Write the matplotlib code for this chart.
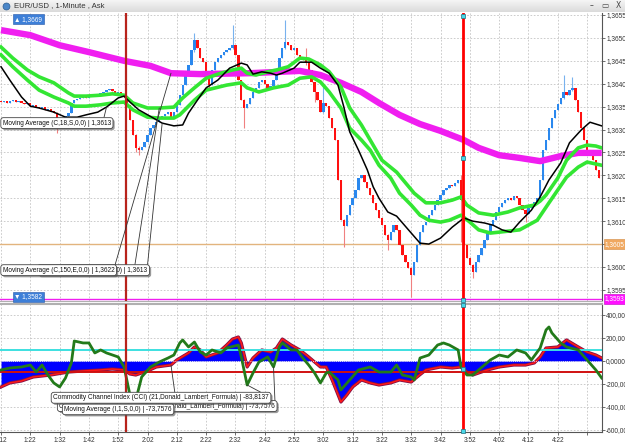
import matplotlib
matplotlib.use("Agg")
import matplotlib.pyplot as plt
import matplotlib.patheffects as pe
import numpy as np

plt.rcParams['font.family'] = ['Liberation Sans', 'DejaVu Sans']

# ---------------- data (minutes counted from 1:12) ----------------
time_labels = ["1:12", "1:22", "1:32", "1:42", "1:52", "2:02", "2:12", "2:22", "2:32", "2:42",
               "2:52", "3:02", "3:12", "3:22", "3:32", "3:42", "3:52", "4:02", "4:12", "4:22", ""]
price_ticks = [1.3595, 1.3600, 1.3605, 1.3610, 1.3615, 1.3620, 1.3625, 1.3630,
               1.3635, 1.3640, 1.3645, 1.3650, 1.3655]
cci_ticks = [-600, -400, -200, 0, 200, 400]
cci_tick_labels = ["-600,000", "-400,000", "-200,000", "0,0000", "200,000", "400,000"]

open0 = 1.36362
close = [1.36360, 1.36362, 1.36358, 1.36362, 1.36364, 1.36360, 1.36362, 1.36358, 1.36356, 1.36358,
         1.36351, 1.36354, 1.36349, 1.36347, 1.36349, 1.36343, 1.36345, 1.36340, 1.36336, 1.36312,
         1.36321, 1.36325, 1.36330, 1.36336, 1.36358, 1.36364, 1.36367, 1.36369, 1.36371, 1.36369,
         1.36373, 1.36375, 1.36373, 1.36378, 1.36380, 1.36382, 1.36386, 1.36388, 1.36384, 1.36380,
         1.36382, 1.36378, 1.36373, 1.36354, 1.36321, 1.36288, 1.36260, 1.36255, 1.36262, 1.36273,
         1.36288, 1.36303, 1.36310, 1.36316, 1.36325, 1.36330, 1.36334, 1.36338, 1.36325, 1.36338,
         1.36354, 1.36375, 1.36397, 1.36419, 1.36441, 1.36474, 1.36495, 1.36478, 1.36456, 1.36447,
         1.36419, 1.36397, 1.36430, 1.36447, 1.36456, 1.36463, 1.36469, 1.36474, 1.36478, 1.36485,
         1.36463, 1.36408, 1.36364, 1.36347, 1.36356, 1.36369, 1.36382, 1.36391, 1.36404, 1.36408,
         1.36399, 1.36391, 1.36395, 1.36408, 1.36430, 1.36456, 1.36478, 1.36491, 1.36485, 1.36474,
         1.36478, 1.36463, 1.36456, 1.36452, 1.36447, 1.36430, 1.36404, 1.36382, 1.36364, 1.36338,
         1.36358, 1.36351, 1.36325, 1.36303, 1.36277, 1.36190, 1.36102, 1.36089, 1.36113, 1.36135,
         1.36150, 1.36168, 1.36194, 1.36201, 1.36185, 1.36172, 1.36157, 1.36140, 1.36124, 1.36107,
         1.36092, 1.36070, 1.36059, 1.36076, 1.36092, 1.36081, 1.36048, 1.36026, 1.36011, 1.35998,
         1.35982, 1.36011, 1.36048, 1.36076, 1.36092, 1.36098, 1.36113, 1.36124, 1.36135, 1.36146,
         1.36157, 1.36168, 1.36172, 1.36179, 1.36177, 1.36183, 1.36190, 1.36146, 1.36048, 1.36020,
         1.36004, 1.35989, 1.36011, 1.36026, 1.36041, 1.36059, 1.36076, 1.36092, 1.36102, 1.36120,
         1.36131, 1.36140, 1.36146, 1.36150, 1.36146, 1.36155, 1.36150, 1.36135, 1.36124, 1.36116,
         1.36129, 1.36135, 1.36142, 1.36150, 1.36190, 1.36255, 1.36277, 1.36303, 1.36325, 1.36343,
         1.36356, 1.36369, 1.36382, 1.36375, 1.36386, 1.36391, 1.36364, 1.36338, 1.36303, 1.36277,
         1.36255, 1.36244, 1.36233, 1.36212, 1.36194]

# candles with visible wicks
wick_idx = [19, 46, 47, 66, 71, 79, 83, 97, 104, 107, 110, 117, 132, 140, 157, 161, 179, 192, 195]
wick_hi = [1.36338, 1.36290, 1.36265, 1.36511, 1.36421, 1.36528, 1.36366, 1.36539, 1.36478, 1.36404,
           1.36402, 1.36105, 1.36072, 1.36000, 1.36201, 1.36006, 1.36126, 1.36419, 1.36415]
wick_lo = [1.36292, 1.36250, 1.36244, 1.36470, 1.36386, 1.36475, 1.36303, 1.36476, 1.36440, 1.36360,
           1.36336, 1.36044, 1.36037, 1.35934, 1.36054, 1.35976, 1.36098, 1.36366, 1.36384]

ma150_t = [0, 10, 20, 30, 42, 51, 58, 68, 85, 102, 109, 116, 123, 129, 136, 143, 150, 158, 163,
           170, 177, 184, 191, 197, 205]
ma150_v = [1.36517, 1.36506, 1.36484, 1.36469, 1.36450, 1.36439, 1.36423, 1.36421, 1.36423, 1.36428,
           1.36419, 1.36402, 1.36382, 1.36358, 1.36332, 1.36312, 1.36297, 1.36277, 1.36260, 1.36244,
           1.36238, 1.36231, 1.36242, 1.36249, 1.36249]

ma18_t = [0, 3, 7, 10, 13, 18, 22, 26, 29, 33, 36, 40, 42, 44, 47, 52, 55, 59, 62, 64, 67, 70, 74,
          78, 82, 84, 86, 89, 92, 94, 96, 100, 102, 106, 109, 112, 115, 117, 119, 122, 125, 127, 129,
          132, 135, 140, 143, 146, 150, 154, 158, 161, 165, 168, 171, 174, 177, 181, 184, 187, 191,
          194, 198, 201, 205]
ma18_v = [1.36437, 1.36408, 1.36371, 1.36351, 1.36347, 1.36338, 1.36327, 1.36327, 1.36332, 1.36338,
          1.36349, 1.36369, 1.36373, 1.36360, 1.36343, 1.36325, 1.36314, 1.36308, 1.36310, 1.36336,
          1.36364, 1.36391, 1.36408, 1.36434, 1.36445, 1.36441, 1.36421, 1.36426, 1.36423, 1.36419,
          1.36423, 1.36434, 1.36447, 1.36447, 1.36434, 1.36423, 1.36397, 1.36349, 1.36295, 1.36255,
          1.36212, 1.36175, 1.36150, 1.36120, 1.36111, 1.36074, 1.36052, 1.36050, 1.36063, 1.36087,
          1.36107, 1.36100, 1.36096, 1.36091, 1.36081, 1.36076, 1.36098, 1.36124, 1.36153, 1.36190,
          1.36227, 1.36271, 1.36299, 1.36316, 1.36308]

upper_t = [0, 4, 9, 13, 18, 23, 25, 29, 34, 38, 42, 45, 50, 54, 59, 62, 66, 70, 75, 79, 82, 84, 87,
           91, 94, 98, 102, 105, 109, 112, 116, 119, 123, 126, 130, 135, 141, 145, 150, 154, 157,
           159, 163, 168, 173, 177, 182, 184, 186, 190, 193, 197, 200, 203, 205]
upper_v = [1.36480, 1.36456, 1.36430, 1.36415, 1.36402, 1.36380, 1.36373, 1.36373, 1.36375, 1.36378,
           1.36375, 1.36358, 1.36347, 1.36347, 1.36349, 1.36369, 1.36391, 1.36412, 1.36423, 1.36430,
           1.36434, 1.36423, 1.36419, 1.36426, 1.36430, 1.36437, 1.36456, 1.36454, 1.36441, 1.36426,
           1.36393, 1.36347, 1.36310, 1.36277, 1.36233, 1.36207, 1.36161, 1.36140, 1.36140, 1.36146,
           1.36153, 1.36135, 1.36118, 1.36113, 1.36120, 1.36129, 1.36135, 1.36144, 1.36157, 1.36194,
           1.36233, 1.36260, 1.36266, 1.36264, 1.36260]

lower_t = [0, 4, 9, 13, 18, 23, 25, 29, 34, 38, 42, 45, 50, 54, 59, 61, 66, 70, 77, 82, 84, 88, 93,
           98, 102, 106, 109, 112, 116, 119, 123, 126, 129, 133, 136, 140, 143, 146, 150, 153, 157,
           160, 163, 167, 170, 177, 183, 187, 193, 197, 200, 205]
lower_v = [1.36463, 1.36437, 1.36408, 1.36386, 1.36371, 1.36358, 1.36351, 1.36351, 1.36354, 1.36358,
           1.36360, 1.36343, 1.36327, 1.36325, 1.36325, 1.36332, 1.36364, 1.36386, 1.36397, 1.36402,
           1.36391, 1.36382, 1.36391, 1.36397, 1.36412, 1.36415, 1.36404, 1.36382, 1.36347, 1.36303,
           1.36277, 1.36255, 1.36222, 1.36194, 1.36161, 1.36135, 1.36113, 1.36102, 1.36098, 1.36102,
           1.36113, 1.36098, 1.36081, 1.36074, 1.36076, 1.36081, 1.36102, 1.36140, 1.36196, 1.36218,
           1.36229, 1.36222]

cci_ma_t = [0, 3, 7, 11, 17, 23, 28, 34, 38, 42, 44, 46, 50, 53, 58, 60, 64, 66, 68, 70, 74, 77, 79,
            81, 82, 84, 86, 89, 92, 94, 96, 99, 102, 105, 109, 111, 113, 116, 118, 120, 123, 126,
            129, 133, 136, 140, 142, 145, 150, 154, 157, 159, 161, 166, 170, 175, 179, 182, 184,
            186, 190, 193, 197, 200, 203, 205]
cci_ma_v = [-226, -191, -174, -139, -122, -96, -87, -78, -70, -78, -113, -122, -87, -52, -35, 9, 70,
            122, 96, 35, 70, 139, 191, 209, 157, -52, 26, 96, 78, 113, 191, 139, 96, 35, -52, -52,
            -165, -357, -296, -226, -165, -191, -209, -191, -165, -183, -139, -78, -52, -61, -52,
            -96, -122, -78, -52, -35, -35, -17, 35, 113, 122, 183, 122, 78, 52, 26]

cci_t = [0, 3, 7, 10, 12, 14, 16, 18, 20, 22, 24, 25, 28, 30, 32, 34, 36, 40, 42, 44, 45, 46, 48,
         51, 54, 57, 59, 61, 62, 64, 66, 68, 70, 72, 75, 77, 81, 82, 84, 86, 88, 91, 93, 95, 96, 99,
         101, 103, 105, 107, 109, 111, 112, 115, 116, 119, 122, 126, 129, 133, 135, 137, 140, 141,
         143, 146, 149, 151, 153, 156, 157, 159, 161, 163, 167, 170, 173, 176, 179, 181, 184, 186,
         187, 188, 191, 193, 197, 200, 203, 205]
cci_v = [-78, -61, -52, -35, -96, -35, -122, -191, -226, -148, -17, 174, 157, 157, 70, 96, 70, 35,
         -52, -296, -383, -339, -139, -52, -9, 26, 52, 157, 183, 122, 165, 78, 52, 96, 70, 113, 139,
         35, -209, -104, -9, 35, -52, 122, 157, 96, 96, 26, -35, -104, -191, -104, -96, -165, -252,
         -165, -78, -52, -96, -96, -35, -122, -139, -165, 26, 52, 139, 157, 139, 96, -52, -122,
         -122, -78, 9, 52, 35, 96, 70, 9, 113, 270, 296, 244, 157, 122, 96, 9, -78, -148]

marker_lines = [42.7, 157.7]   # the two vertical red lines
level_tan = 1.3605
level_low = 1.3593

# ---------------- figure ----------------
W, H = 625, 445
FS = 4.7      # small platform font
fig = plt.figure(figsize=(W / 100, H / 100), dpi=100)


def px_box(x0, y0, x1, y1):
    return [x0 / W, 1 - y1 / H, (x1 - x0) / W, (y1 - y0) / H]


ax = fig.add_axes(px_box(0, 13, 602, 301))
ax2 = fig.add_axes(px_box(0, 304, 602, 432), sharex=ax)
bar = fig.add_axes(px_box(0, 0, 625, 12))

# title bar
grad = np.linspace(0.96, 0.86, 20)[:, None] * np.ones((1, 2))
bar.imshow(np.dstack([grad, grad, grad]), aspect='auto', extent=(0, 1, 0, 1))
bar.set_xlim(0, 1)
bar.set_ylim(0, 1)
bar.axis('off')
bar.plot(6 / W, 0.5, 'o', ms=5, color='#4a86c8', mec='#2a5a90', mew=0.5)
bar.text(14 / W, 0.5, "EUR/USD , 1-Minute , Ask", va='center', ha='left', fontsize=5.6, color='#333333')
for xx, s in zip([592, 605, 618], ["–", "▭", "X"]):
    bar.text(xx / W, 0.5, s, va='center', ha='center', fontsize=5.5, color='#444444',
             family=['DejaVu Sans'])

# ---------------- price panel ----------------
close = np.array(close)
t = np.arange(len(close))
opens = np.r_[open0, close[:-1]]
highs = np.maximum(opens, close)
lows = np.minimum(opens, close)
for i, hv, lv in zip(wick_idx, wick_hi, wick_lo):
    highs[i] = hv
    lows[i] = lv
up = close >= opens
body_lo = np.minimum(opens, close)
body_h = np.maximum(np.abs(close - opens), 0.00002)

ax.vlines(t[up], lows[up], highs[up], color='#78b2ee', lw=0.8, zorder=2)
ax.vlines(t[~up], lows[~up], highs[~up], color='#f08080', lw=0.8, zorder=2)
ax.bar(t[up], body_h[up], bottom=body_lo[up], width=0.8, color='#2a88ee', lw=0, zorder=3)
ax.bar(t[~up], body_h[~up], bottom=body_lo[~up], width=0.8, color='#ff1010', lw=0, zorder=3)

ax.axhline(level_tan, color='#e2b47e', lw=1.0, zorder=1.5)
ax.axhline(level_low, color='#f01ef0', lw=1.0, zorder=1.5)

ax.plot(ma150_t, ma150_v, color='#f01ef0', lw=4.6, solid_capstyle='butt', zorder=4)
ax.plot(upper_t, upper_v, color='#33e633', lw=2.6, zorder=5)
ax.plot(lower_t, lower_v, color='#33e633', lw=2.6, zorder=5)
ax.plot(ma18_t, ma18_v, color='#000000', lw=1.1, zorder=6)

ax.set_ylim(1.359257, 1.365544)
ax.set_xlim(-0.35, 205.1)
ax.set_xticks(range(0, 201, 10))
ax.tick_params(axis='x', length=0, labelbottom=False)
ax.yaxis.tick_right()
ax.set_yticks(price_ticks)
ax.set_yticklabels([f"{v:.4f}".replace('.', ',') for v in price_ticks], fontsize=FS)
ax.tick_params(axis='y', length=2, pad=1, width=0.6, colors='#555555')
for lab in ax.get_yticklabels():
    lab.set_color('#333333')
ax.grid(True, color='#c4c4c4', ls=(0, (2, 2)), lw=0.6)
ax.set_axisbelow(True)
for s in ['left', 'top']:
    ax.spines[s].set_visible(False)
ax.spines['right'].set_color('#555555')
ax.spines['right'].set_linewidth(0.8)
ax.spines['bottom'].set_color('#b0b0b0')

# right-side value tags
ax.text(1.005, level_tan, "1,3605", transform=ax.get_yaxis_transform(), fontsize=FS, color='white',
        va='center', ha='left', clip_on=False, zorder=12,
        bbox=dict(boxstyle='square,pad=0.2', fc='#f0a860', ec='#d08840', lw=0.4))
ax.text(1.005, level_low, "1,3593", transform=ax.get_yaxis_transform(), fontsize=FS, color='white',
        va='center', ha='left', clip_on=False, zorder=12,
        bbox=dict(boxstyle='square,pad=0.2', fc='#ff10ff', ec='#c000c0', lw=0.4))

# left high / low tags
tag = dict(boxstyle='square,pad=0.25', fc='#3d7fd8', ec='#2456a8', lw=0.4)
ax.text(4.5, 1.36541, "▲ 1,3669", fontsize=FS, color='white', va='center', ha='left', bbox=tag,
        zorder=9, family=['Liberation Sans', 'DejaVu Sans'])
ax.text(4.5, 1.35935, "▼ 1,3582", fontsize=FS, color='white', va='center', ha='left', bbox=tag,
        zorder=9, family=['Liberation Sans', 'DejaVu Sans'])

# callout labels
lbl_box = dict(boxstyle='round,pad=0.3,rounding_size=0.4', fc='white', ec='#444444', lw=0.6)
lead = dict(arrowstyle='-', color='#333333', lw=0.6, shrinkA=0, shrinkB=0)
shadow = [pe.SimplePatchShadow(offset=(1.2, -1.2), shadow_rgbFace='#555555', alpha=0.6), pe.Normal()]


def callout(axis, text, xy_text, xy_end=None, relpos=(0.5, 0.5), ha='left', z=10):
    if xy_end is None:
        a = axis.annotate(text, xy=xy_text, fontsize=FS, color='#111111', ha=ha,
                          va='center', bbox=lbl_box, zorder=z)
    else:
        a = axis.annotate(text, xy=xy_end, xytext=xy_text, fontsize=FS, color='#111111', ha=ha,
                          va='center', bbox=lbl_box, zorder=z,
                          arrowprops=dict(lead, relpos=relpos))
    a.get_bbox_patch().set_path_effects(shadow)
    return a


callout(ax, "Moving Average (C,18,S,0,0) | 1,3613", (0.6, 1.36314), (ma18_t[10], ma18_v[10]), (0.93, 1.0))
ax.annotate('', xy=(upper_t[13], upper_v[13]), xytext=(45.7, 1.36005), arrowprops=lead, zorder=8)
ax.annotate('', xy=(ma18_t[16], ma18_v[16]), xytext=(50.0, 1.36005), arrowprops=lead, zorder=8)
callout(ax, "Moving Average (C,18,E,0,0) | 1,3613", (50.0, 1.35993), ha='right', z=9)
callout(ax, "Moving Average (C,150,E,0,0) | 1,3622", (0.6, 1.35993), (ma150_t[6], ma150_v[6]), (1.0, 1.0), z=10)

for x in marker_lines:
    ax.axvline(x, color='#b8231c' if x < 100 else '#ff0000', lw=1.6 if x < 100 else 2.0, zorder=7)
hm = dict(marker='s', ms=3.2, mfc='#48d8e8', mec='#207080', mew=0.5, ls='none', clip_on=False, zorder=11)
ax.plot([marker_lines[1]] * 3, [0.99, 0.497, 0.005], transform=ax.get_xaxis_transform(), **hm)

# ---------------- CCI panel ----------------
ax2.fill_between(cci_ma_t, 0, cci_ma_v, color='#0000ff', lw=0, zorder=2)
ax2.plot(cci_ma_t, cci_ma_v, color='#ff1818', lw=1.1, zorder=3,
         path_effects=[pe.Stroke(linewidth=2.3, foreground='#801048'), pe.Normal()])
ax2.axhline(0, color='white', lw=0.6, ls=(0, (1, 1.5)), zorder=3)
ax2.axhline(100, color='#3de0e0', lw=1.4, zorder=4)
ax2.axhline(-100, color='#d01010', lw=1.4, zorder=4)
ax2.plot(cci_t, cci_v, color='#237a1a', lw=2.0, zorder=5)

ax2.set_ylim(-618, 496)
ax2.set_yticks(cci_ticks)
ax2.yaxis.tick_right()
ax2.set_yticklabels(cci_tick_labels, fontsize=FS)
ax2.tick_params(axis='y', length=2, pad=1, width=0.6, colors='#555555')
for lab in ax2.get_yticklabels():
    lab.set_color('#333333')
ax2.set_xticks(range(0, 201, 10))
ax2.set_xticklabels(time_labels, fontsize=FS)
ax2.tick_params(axis='x', length=2, pad=1.5, width=0.6, colors='#555555')
for lab in ax2.get_xticklabels():
    lab.set_color('#333333')
ax2.grid(True, color='#c4c4c4', ls=(0, (2, 2)), lw=0.6)
ax2.set_axisbelow(True)
ax2.spines['left'].set_visible(False)
ax2.spines['top'].set_color('#b0b0b0')
ax2.spines['top'].set_linewidth(1.5)
for s in ['right', 'bottom']:
    ax2.spines[s].set_color('#555555')
    ax2.spines[s].set_linewidth(0.8)

ax2.annotate('', xy=(cci_t[42], cci_v[42]), xytext=(93.5, -357), arrowprops=lead, zorder=8)
callout(ax2, "Commodity Channel Index (CCI) (21,Donald_Lambert_Formula) | -73,7576", (19.9, -392), z=8)
callout(ax2, "Moving Average (I,1,S,0,0) | -73,7576", (21.6, -420), z=9)
ax2.annotate('', xy=(cci_ma_t[14], cci_ma_v[14]), xytext=(59.4, -290), arrowprops=lead, zorder=9)
callout(ax2, "Commodity Channel Index (CCI) (21,Donald_Lambert_Formula) | -83,8137", (17.8, -320),
        (cci_t[38], cci_v[38]), (0.98, 1.0), z=10)

for x in marker_lines:
    ax2.axvline(x, color='#b8231c' if x < 100 else '#ff0000', lw=1.6 if x < 100 else 2.0, zorder=7)
ax2.plot([marker_lines[1]] * 3, [0.99, 0.49, 0.01], transform=ax2.get_xaxis_transform(), **hm)

fig.savefig("out.png", dpi=100)
